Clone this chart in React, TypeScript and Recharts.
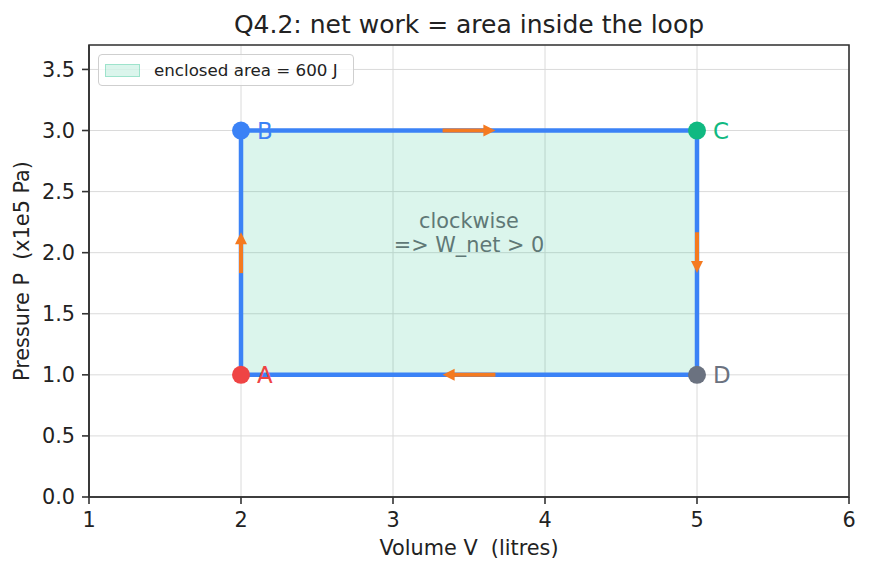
import React from "react";
import {
  ComposedChart,
  Scatter,
  XAxis,
  YAxis,
  CartesianGrid,
  ReferenceArea,
  ReferenceDot,
} from "recharts";

// cycle corners
const pointNames = ["A", "B", "C", "D"];
const pointV = [2, 2, 5, 5];
const pointP = [1, 3, 3, 1];
const pointColors = ["#ef4444", "#3b82f6", "#10b981", "#6b7280"];

// loop order A -> B -> C -> D -> A
const loopOrder = [0, 1, 2, 3, 0];

// direction arrows along each edge [x1, y1, x2, y2]
const arrows = [
  [2, 1.8, 2, 2.2],
  [3.3, 3, 3.7, 3],
  [5, 2.2, 5, 1.8],
  [3.7, 1, 3.3, 1],
];

const xTicks = [1, 2, 3, 4, 5, 6];
const yTicks = [0, 0.5, 1, 1.5, 2, 2.5, 3, 3.5];

const FONT = "DejaVu Sans, sans-serif";
const ORANGE = "#f47a20";
const INK = "#222";

const loopData = loopOrder.map((i) => ({ x: pointV[i], y: pointP[i] }));

// arrow drawn between the two pixel points the scatter line hands over
const ArrowLine = (props: any) => {
  const pts = props.points || [];
  if (pts.length < 2) return <g />;
  const shrink = 4;
  const dx = pts[1].x - pts[0].x;
  const dy = pts[1].y - pts[0].y;
  const len = Math.sqrt(dx * dx + dy * dy) || 1;
  const ux = dx / len;
  const uy = dy / len;
  const sx = pts[0].x + ux * shrink;
  const sy = pts[0].y + uy * shrink;
  const tx = pts[1].x - ux * shrink;
  const ty = pts[1].y - uy * shrink;
  const head = 12;
  const half = 6;
  const bx = tx - ux * head;
  const by = ty - uy * head;
  const tri = `${tx},${ty} ${bx - uy * half},${by + ux * half} ${bx + uy * half},${by - ux * half}`;
  return (
    <g>
      <line x1={sx} y1={sy} x2={bx + ux * 1} y2={by + uy * 1} stroke={ORANGE} strokeWidth={4} />
      <polygon points={tri} fill={ORANGE} />
    </g>
  );
};

export default function App() {
  return (
    <div style={{ position: "absolute", left: 0, top: 0, width: 869, height: 573, background: "#fff" }}>
      <div
        style={{
          position: "absolute",
          top: 12,
          left: 89,
          width: 760,
          textAlign: "center",
          fontFamily: FONT,
          fontSize: 25,
          lineHeight: "25px",
          color: INK,
          whiteSpace: "nowrap",
        }}
      >
        Q4.2: net work = area inside the loop
      </div>
      <ComposedChart
        width={869}
        height={573}
        margin={{ top: 45, right: 20, left: 0, bottom: 0 }}
        style={{ fontFamily: FONT }}
      >
        <CartesianGrid stroke="#dadada" strokeWidth={1} />
        <XAxis
          type="number"
          dataKey="x"
          domain={[1, 6]}
          ticks={xTicks}
          allowDataOverflow
          height={76}
          axisLine={{ stroke: "#333", strokeWidth: 1.6 }}
          tickLine={{ stroke: "#333", strokeWidth: 1.6 }}
          tickSize={7}
          tickMargin={8}
          tick={{ fill: INK, fontSize: 20.8 }}
          label={{ value: "Volume V\u00a0 (litres)", position: "insideBottom", offset: 18, fill: INK, fontSize: 20.8 }}
        />
        <YAxis
          type="number"
          dataKey="y"
          domain={[0, 3.7]}
          ticks={yTicks}
          allowDataOverflow
          width={89}
          axisLine={{ stroke: "#333", strokeWidth: 1.6 }}
          tickLine={{ stroke: "#333", strokeWidth: 1.6 }}
          tickSize={7}
          tickMargin={7}
          tickFormatter={(v: number) => v.toFixed(1)}
          tick={{ fill: INK, fontSize: 20.8 }}
          label={{
            value: "Pressure P\u00a0 (x1e5 Pa)",
            angle: -90,
            position: "insideLeft",
            offset: 22,
            style: { textAnchor: "middle" },
            fill: INK,
            fontSize: 20.8,
          }}
        />
        <ReferenceArea
          x1={pointV[0]}
          x2={pointV[2]}
          y1={pointP[0]}
          y2={pointP[1]}
          fill="rgba(16,185,129,0.15)"
          fillOpacity={1}
          stroke="none"
        />
        {/* frame on all four sides */}
        <ReferenceArea
          x1={xTicks[0]}
          x2={xTicks[xTicks.length - 1]}
          y1={0}
          y2={3.7}
          fill="none"
          stroke="#333"
          strokeWidth={1.6}
          ifOverflow="visible"
        />
        <ReferenceDot
          x={3.5}
          y={2.15}
          r={0}
          shape={(p: any) => (
            <text x={p.cx} y={p.cy} textAnchor="middle" fill="#5f7876" fontSize={20.8} fontFamily={FONT}>
              <tspan x={p.cx} dy={-6}>clockwise</tspan>
              <tspan x={p.cx} dy={24}>{"=> W_net > 0"}</tspan>
            </text>
          )}
        />
        <Scatter
          data={loopData}
          line={{ stroke: "#3b82f6", strokeWidth: 4.5, strokeLinejoin: "round" }}
          shape={() => <g />}
          isAnimationActive={false}
        />
        {arrows.map((a, i) => (
          <Scatter
            key={"arr" + i}
            data={[
              { x: a[0], y: a[1] },
              { x: a[2], y: a[3] },
            ]}
            line={(p: any) => <ArrowLine {...p} />}
            shape={() => <g />}
            isAnimationActive={false}
          />
        ))}
        {pointNames.map((name, i) => (
          <Scatter
            key={name}
            data={[{ x: pointV[i], y: pointP[i] }]}
            isAnimationActive={false}
            shape={(p: any) => (
              <g>
                <circle cx={p.cx} cy={p.cy} r={9} fill={pointColors[i]} />
                <text x={p.cx + 16} y={p.cy + 8.5} fill={pointColors[i]} fontSize={22.9} fontFamily={FONT}>
                  {name}
                </text>
              </g>
            )}
          />
        ))}
      </ComposedChart>
      <div
        style={{
          position: "absolute",
          left: 98,
          top: 54,
          width: 256,
          height: 32,
          boxSizing: "border-box",
          display: "flex",
          alignItems: "center",
          border: "1px solid #cfcfcf",
          borderRadius: 4,
          background: "rgba(255,255,255,0.8)",
          paddingLeft: 6,
          fontFamily: FONT,
          fontSize: 16.7,
          color: INK,
          whiteSpace: "nowrap",
        }}
      >
        <span
          style={{
            display: "inline-block",
            width: 35,
            height: 13,
            background: "rgba(16,185,129,0.15)",
            border: "1px solid rgba(16,185,129,0.3)",
            boxSizing: "border-box",
            marginRight: 14,
          }}
        />
        enclosed area = 600 J
      </div>
    </div>
  );
}
